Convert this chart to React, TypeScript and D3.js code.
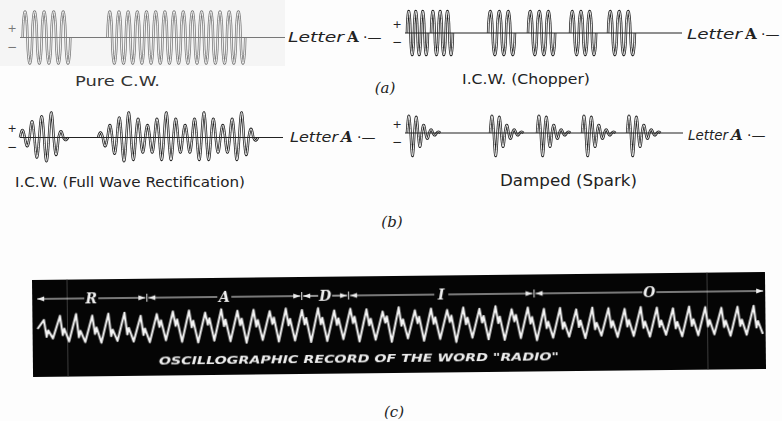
import * as d3 from 'd3';

// ---- data (signal time runs 0..100 across each trace) ----
const pureCwBursts = [
  { start: 1, end: 19, cycles: 5 },
  { start: 33, end: 85, cycles: 15 },
];
const chopperGroups = [
  { start: 0.7, end: 8.3, cycles: 3 },
  { start: 9.4, end: 17.3, cycles: 3 },
  { start: 30, end: 39.7, cycles: 3 },
  { start: 44.4, end: 54.2, cycles: 3 },
  { start: 59.6, end: 69, cycles: 3 },
  { start: 73.3, end: 83, cycles: 3 },
];
// amplitude of each half cycle
const fullWaveDot = [0.3, 0.35, 0.65, 0.8, 0.85, 0.95, 1, 0.7, 0.25, 0.1];
const fullWaveDash = [
  0.2, 0.35, 0.5, 0.65, 0.8, 0.95, 1, 0.9, 0.75, 0.6, 0.5, 0.6, 0.75, 0.9,
  1, 0.9, 0.75, 0.6, 0.5, 0.6, 0.75, 0.9, 1, 0.9, 0.75, 0.6, 0.5, 0.6,
  0.75, 0.9, 1, 0.7, 0.35, 0.12,
];
const fullWaveSpans = [
  { start: 0, end: 18.3 },
  { start: 29.7, end: 90.5 },
];
const sparkStarts = [0.7, 30.6, 47.5, 63.7, 79.9];
const sparkLength = 12;
const sparkHalves = [0.75, 1, 0.7, 0.6, 0.35, 0.25, 0.15, 0.1, 0.05];

const panelLabels = ['Pure C.W.', 'I.C.W. (Chopper)', 'I.C.W. (Full Wave Rectification)', 'Damped (Spark)'];
const figureLetters = ['(a)', '(b)', '(c)'];

// (c) oscillogram, one entry per cycle
const oscPeaks = [
  0.55, 0.8, 0.9, 0.8, 0.9, 0.95, 0.75,
  0.85, 1.0, 1.05, 0.9, 1.1, 1.0, 1.05, 0.95, 1.1, 1.0,
  1.1, 0.95, 1.05,
  1.0, 0.85, 1.1, 0.9, 1.0, 0.9, 1.05, 0.95, 1.1, 0.9, 1.0,
  0.9, 0.95, 0.85, 0.95, 0.9, 0.85, 0.95, 0.9, 0.85, 0.95, 0.9, 0.85, 0.9, 0.95,
];
const oscTroughs = [
  -0.6, -0.8, -0.85, -0.9, -0.8, -0.85, -0.9,
  -0.8, -0.9, -0.95, -0.85, -0.9, -1.0, -0.85, -0.95, -0.9, -1.0,
  -0.95, -0.85, -1.0,
  -0.9, -1.05, -0.85, -1.0, -0.9, -1.1, -0.85, -0.95, -1.0, -0.9, -1.05,
  -0.9, -0.85, -0.95, -0.8, -0.9, -0.85, -0.9, -0.8, -0.9, -0.85, -0.8, -0.9, -0.85, -0.8,
];
const oscKinks = [
  -0.1, 0.0, -0.15, 0.05, -0.1, 0.0, -0.05,
  0.45, 0.5, 0.4, 0.55, 0.45, 0.5, 0.4, 0.55, 0.45, 0.5,
  0.5, 0.45, 0.55,
  0.4, 0.55, 0.35, 0.5, 0.45, 0.55, 0.4, 0.5, 0.45, 0.55, 0.4,
  0.1, 0.05, 0.15, 0.0, 0.1, 0.15, 0.05, 0.1, 0.0, 0.15, 0.1, 0.05, 0.1, 0.0,
];
const wordLetters = [
  { letter: 'R', from: 0, to: 6.8 },
  { letter: 'A', from: 6.8, to: 16.4 },
  { letter: 'D', from: 16.4, to: 19.3 },
  { letter: 'I', from: 19.3, to: 30.8 },
  { letter: 'O', from: 30.8, to: 45 },
];
const oscCaption = 'OSCILLOGRAPHIC RECORD OF THE WORD "RADIO"';

type Burst = { start: number; end: number; halves: number[] };

const uniform = (b: { start: number; end: number; cycles: number }): Burst => ({
  start: b.start,
  end: b.end,
  halves: new Array(b.cycles * 2).fill(1),
});

function burstPath(b: Burst, x: d3.ScaleLinear<number, number>, y: d3.ScaleLinear<number, number>, power: number) {
  const n = b.halves.length;
  const w = (b.end - b.start) / n;
  const pts: [number, number][] = [];
  b.halves.forEach((a, k) => {
    const sign = k % 2 === 0 ? 1 : -1;
    for (let j = k === 0 ? 0 : 1; j <= 12; j++) {
      const u = j / 12;
      const s = Math.pow(Math.sin(Math.PI * u), power);
      pts.push([x(b.start + (k + u) * w), y(sign * a * s)]);
    }
  });
  return d3.line()(pts) || '';
}

const Trace = ({ bursts, x0, x1, base, amp, power, color }: {
  bursts: Burst[]; x0: number; x1: number; base: number; amp: number; power: number; color: string;
}) => {
  const x = d3.scaleLinear().domain([0, 100]).range([x0, x1]);
  const y = d3.scaleLinear().domain([-1, 1]).range([base + amp, base - amp]);
  const paths = bursts.map(b => burstPath(b, x, y, power));
  return (
    <g>
      {paths.map((d, i) => (
        <g key={i}>
          <path d={d} fill="none" stroke={color} strokeWidth={2.5} strokeLinejoin="round" />
          <path d={d} fill="none" stroke="#fff" strokeWidth={0.9} strokeLinejoin="round" />
        </g>
      ))}
      <line x1={x0} x2={x1} y1={base} y2={base} stroke={color} strokeWidth={1.2} />
      <text x={x0 - 8} y={base - 9} fontSize={11} textAnchor="middle" dominantBaseline="central"
        fontFamily="DejaVu Sans" fill={color}>+</text>
      <text x={x0 - 8} y={base + 9} fontSize={12} textAnchor="middle" dominantBaseline="central"
        fontFamily="DejaVu Sans" fill={color}>−</text>
    </g>
  );
};

const LetterA = ({ x, y, w, script }: { x: number; y: number; w: number; script?: boolean }) => (
  <g fill="#222">
    <text x={x} y={y} fontSize={14} fontStyle="italic" fontFamily="DejaVu Sans" textLength={w}
      lengthAdjust="spacingAndGlyphs">Letter</text>
    <text x={x + w + 3} y={y} fontSize={15} fontWeight="bold" fontStyle={script ? 'italic' : 'normal'}
      fontFamily="DejaVu Serif">A</text>
    <text x={x + w + 19} y={y} fontSize={14} fontFamily="DejaVu Sans">·—</text>
  </g>
);

const Oscillogram = () => {
  const xs = d3.scaleLinear().domain([0, 45]).range([5, 731]);
  const ys = d3.scaleLinear().domain([-1, 1]).range([65, 33]);
  const pts: [number, number][] = [[xs(0), ys(0)]];
  oscPeaks.forEach((p, i) => {
    pts.push([xs(i + 0.4), ys(p)]);
    pts.push([xs(i + 0.56), ys(oscKinks[i] - 0.4)]);
    pts.push([xs(i + 0.66), ys(oscKinks[i])]);
    pts.push([xs(i + 0.95), ys(oscTroughs[i])]);
  });
  const wave = d3.line()(pts) || '';
  const ay = 19;
  const head = (xt: number, dir: number) =>
    `M${xt},${ay} L${xt - dir * 7},${ay - 2.6} L${xt - dir * 7},${ay + 2.6} Z`;
  return (
    <g transform="translate(32,280) rotate(-0.63)">
      <defs>
        <filter id="soft" x="-5%" y="-20%" width="110%" height="140%">
          <feGaussianBlur stdDeviation="0.45" />
        </filter>
      </defs>
      <rect x={0} y={0} width={733} height={97} fill="#050505" />
      <line x1={35} x2={35} y1={0} y2={97} stroke="#4a4a4a" strokeWidth={0.8} />
      <line x1={675} x2={675} y1={0} y2={97} stroke="#4a4a4a" strokeWidth={0.8} />
      <g filter="url(#soft)">
        <path d={wave} fill="none" stroke="#f4f4f4" strokeWidth={2.1} strokeLinejoin="round" />
        {wordLetters.map((s, i) => {
          const a = xs(s.from) + (i === 0 ? 0 : 1.5);
          const b = xs(s.to) - (i === wordLetters.length - 1 ? 0 : 1.5);
          const mid = (a + b) / 2;
          return (
            <g key={s.letter}>
              <line x1={a} x2={mid - 7} y1={ay} y2={ay} stroke="#eee" strokeWidth={1.2} />
              <line x1={mid + 7} x2={b} y1={ay} y2={ay} stroke="#eee" strokeWidth={1.2} />
              <path d={head(a, -1)} fill="#eee" />
              <path d={head(b, 1)} fill="#eee" />
              {i > 0 && <line x1={a - 1.5} x2={a - 1.5} y1={ay - 4} y2={ay + 4} stroke="#eee" strokeWidth={1} />}
              <text x={mid} y={ay + 5} fontSize={14} fontWeight="bold" fontStyle="italic"
                fontFamily="DejaVu Serif" fill="#f2f2f2" textAnchor="middle">{s.letter}</text>
            </g>
          );
        })}
        <text x={126} y={86} fontSize={11} fontWeight="bold" fontStyle="italic" fontFamily="DejaVu Sans"
          fill="#eee" textLength={400} lengthAdjust="spacingAndGlyphs">{oscCaption}</text>
      </g>
    </g>
  );
};

export default function App() {
  const labelFont = 'DejaVu Sans';
  return (
    <svg width={782} height={421} style={{ position: 'absolute', left: 0, top: 0, background: '#fdfdfd' }}>
      <rect x={0} y={0} width={285} height={66} fill="#f5f5f5" />

      {/* (a) */}
      <Trace bursts={pureCwBursts.map(uniform)} x0={20} x1={285} base={37.5} amp={26} power={0.6} color="#777" />
      <LetterA x={288} y={42} w={56} />
      <Trace bursts={chopperGroups.map(uniform)} x0={405} x1={682} base={33} amp={22} power={0.6} color="#222" />
      <LetterA x={687} y={39} w={55} />
      <text x={75} y={86} fontSize={14} fontFamily={labelFont} fill="#333" textLength={85}
        lengthAdjust="spacingAndGlyphs">{panelLabels[0]}</text>
      <text x={462} y={84} fontSize={14} fontFamily={labelFont} fill="#222" textLength={128}
        lengthAdjust="spacingAndGlyphs">{panelLabels[1]}</text>
      <text x={385} y={93} fontSize={15} fontStyle="italic" fontFamily="DejaVu Serif" fill="#222"
        textAnchor="middle">{figureLetters[0]}</text>

      {/* (b) */}
      <Trace bursts={[
        { ...fullWaveSpans[0], halves: fullWaveDot },
        { ...fullWaveSpans[1], halves: fullWaveDash },
      ]} x0={20} x1={283} base={137.5} amp={25} power={1} color="#222" />
      <LetterA x={290} y={142} w={48} script />
      <Trace bursts={sparkStarts.map(s => ({ start: s, end: s + sparkLength, halves: sparkHalves }))}
        x0={405} x1={683} base={133} amp={23} power={1} color="#222" />
      <LetterA x={688} y={140} w={40} script />
      <text x={15} y={187} fontSize={14} fontFamily={labelFont} fill="#222" textLength={230}
        lengthAdjust="spacingAndGlyphs">{panelLabels[2]}</text>
      <text x={500} y={186} fontSize={15} fontFamily={labelFont} fill="#222" textLength={137}
        lengthAdjust="spacingAndGlyphs">{panelLabels[3]}</text>
      <text x={392} y={227} fontSize={15} fontStyle="italic" fontFamily="DejaVu Serif" fill="#222"
        textAnchor="middle">{figureLetters[1]}</text>

      {/* (c) */}
      <Oscillogram />
      <text x={394} y={417} fontSize={15} fontStyle="italic" fontFamily="DejaVu Serif" fill="#222"
        textAnchor="middle">{figureLetters[2]}</text>
    </svg>
  );
}
